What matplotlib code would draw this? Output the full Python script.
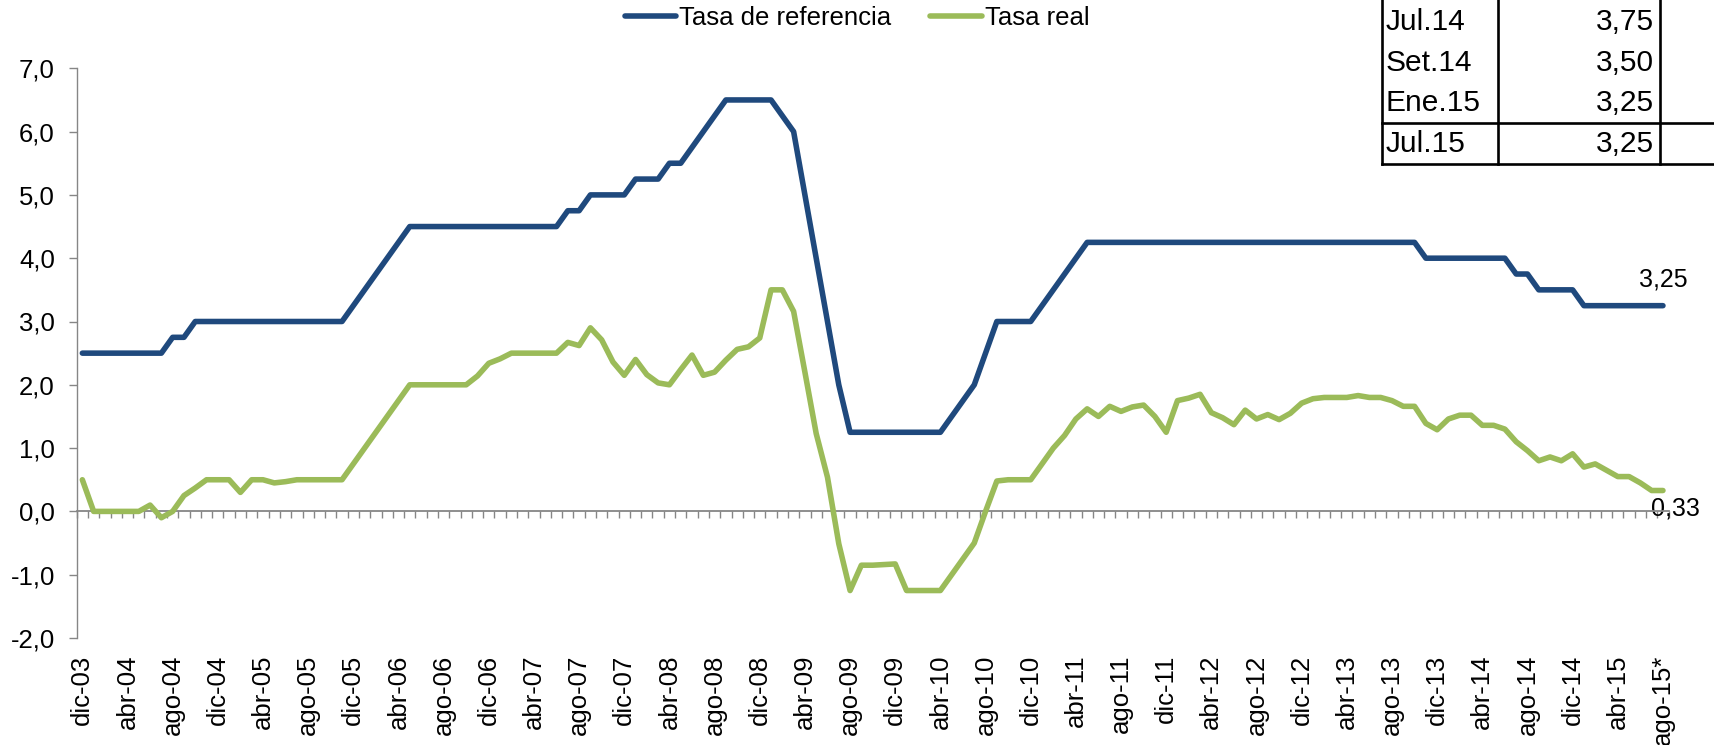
import matplotlib
matplotlib.use('Agg')
import matplotlib.pyplot as plt
from matplotlib.lines import Line2D
import numpy as np

plt.rcParams['font.family'] = ['Liberation Sans', 'DejaVu Sans']

# monthly series, dic-03 .. ago-15
tasa_referencia = [
    2.5, 2.5, 2.5, 2.5, 2.5, 2.5, 2.5, 2.5, 2.75, 2.75,
    3.0, 3.0, 3.0, 3.0, 3.0, 3.0, 3.0, 3.0, 3.0, 3.0,
    3.0, 3.0, 3.0, 3.0, 3.25, 3.5, 3.75, 4.0, 4.25, 4.5,
    4.5, 4.5, 4.5, 4.5, 4.5, 4.5, 4.5, 4.5, 4.5, 4.5,
    4.5, 4.5, 4.5, 4.75, 4.75, 5.0, 5.0, 5.0, 5.0, 5.25,
    5.25, 5.25, 5.5, 5.5, 5.75, 6.0, 6.25, 6.5, 6.5, 6.5,
    6.5, 6.5, 6.25, 6.0, 5.0, 4.0, 3.0, 2.0, 1.25, 1.25,
    1.25, 1.25, 1.25, 1.25, 1.25, 1.25, 1.25, 1.5, 1.75, 2.0,
    2.5, 3.0, 3.0, 3.0, 3.0, 3.25, 3.5, 3.75, 4.0, 4.25,
    4.25, 4.25, 4.25, 4.25, 4.25, 4.25, 4.25, 4.25, 4.25, 4.25,
    4.25, 4.25, 4.25, 4.25, 4.25, 4.25, 4.25, 4.25, 4.25, 4.25,
    4.25, 4.25, 4.25, 4.25, 4.25, 4.25, 4.25, 4.25, 4.25, 4.0,
    4.0, 4.0, 4.0, 4.0, 4.0, 4.0, 4.0, 3.75, 3.75, 3.5,
    3.5, 3.5, 3.5, 3.25, 3.25, 3.25, 3.25, 3.25, 3.25, 3.25,
    3.25,
]

tasa_real = [
    0.5, 0.0, 0.0, 0.0, 0.0, 0.0, 0.1, -0.1, 0.0, 0.25,
    0.37, 0.5, 0.5, 0.5, 0.3, 0.5, 0.5, 0.45, 0.47, 0.5,
    0.5, 0.5, 0.5, 0.5, 0.75, 1.0, 1.25, 1.5, 1.75, 2.0,
    2.0, 2.0, 2.0, 2.0, 2.0, 2.14, 2.34, 2.41, 2.5, 2.5,
    2.5, 2.5, 2.5, 2.67, 2.62, 2.9, 2.71, 2.36, 2.15, 2.4,
    2.16, 2.03, 2.0, 2.24, 2.47, 2.15, 2.2, 2.39, 2.56, 2.6,
    2.74, 3.5, 3.5, 3.16, 2.2, 1.23, 0.54, -0.51, -1.25, -0.85,
    -0.85, -0.84, -0.83, -1.25, -1.25, -1.25, -1.25, -1.0, -0.75, -0.5,
    0.0, 0.48, 0.5, 0.5, 0.5, 0.75, 1.0, 1.2, 1.46, 1.62,
    1.5, 1.66, 1.58, 1.65, 1.68, 1.5, 1.25, 1.75, 1.79, 1.85,
    1.56, 1.48, 1.37, 1.6, 1.46, 1.53, 1.45, 1.55, 1.71, 1.78,
    1.8, 1.8, 1.8, 1.83, 1.8, 1.8, 1.75, 1.66, 1.66, 1.39,
    1.29, 1.46, 1.52, 1.52, 1.36, 1.36, 1.3, 1.1, 0.96, 0.8,
    0.86, 0.8, 0.91, 0.7, 0.75, 0.65, 0.55, 0.55, 0.45, 0.33,
    0.33,
]

tick_labels = [
    'dic-03', 'abr-04', 'ago-04', 'dic-04', 'abr-05', 'ago-05', 'dic-05',
    'abr-06', 'ago-06', 'dic-06', 'abr-07', 'ago-07', 'dic-07', 'abr-08',
    'ago-08', 'dic-08', 'abr-09', 'ago-09', 'dic-09', 'abr-10', 'ago-10',
    'dic-10', 'abr-11', 'ago-11', 'dic-11', 'abr-12', 'ago-12', 'dic-12',
    'abr-13', 'ago-13', 'dic-13', 'abr-14', 'ago-14', 'dic-14', 'abr-15',
    'ago-15*',
]

# small table in the upper right corner (partly cut off in the original)
tabla_fechas = ['Jul.14', 'Set.14', 'Ene.15', 'Jul.15']
tabla_tasas = ['3,75', '3,50', '3,25', '3,25']

AZUL = '#1F497D'
VERDE = '#9BBB59'
GRIS = '#868686'
W, H = 1715, 745


def fx(px):
    return px / W


def fy(py):
    return 1 - py / H


fig = plt.figure(figsize=(W / 100, H / 100), dpi=100)
ax = fig.add_axes([fx(76.7), fy(638), fx(1668.6) - fx(76.7), fy(68.3) - fy(638)])

x = np.arange(len(tasa_referencia))
ax.plot(x, tasa_referencia, color=AZUL, lw=4.0, solid_joinstyle='round',
        solid_capstyle='round', zorder=4, label='Tasa de referencia')
ax.plot(x, tasa_real, color=VERDE, lw=4.0, solid_joinstyle='round',
        solid_capstyle='round', zorder=4, label='Tasa real')

ax.set_xlim(-0.5, len(x) - 0.5)
ax.set_ylim(-2, 7)

# y axis
yt = np.arange(-2, 8)
ax.set_yticks(yt, [f'{v},0' for v in yt])
ax.tick_params(axis='y', length=5.8, width=1, color=GRIS, pad=10, labelsize=18.5)
ax.spines['left'].set_color(GRIS)
ax.spines['left'].set_linewidth(1)

# horizontal axis line at zero with a small tick per month
ax.spines['bottom'].set_position(('data', 0))
ax.spines['bottom'].set_color(GRIS)
ax.spines['bottom'].set_linewidth(1.3)
ax.spines['bottom'].set_zorder(3)
ax.set_xticks([])
ax.set_xticks(np.arange(-0.5, len(x)), minor=True)
ax.tick_params(axis='x', which='minor', length=5, width=1, color=GRIS, direction='out')
ax.spines['top'].set_visible(False)
ax.spines['right'].set_visible(False)

# date labels down at the bottom of the plot
sec = ax.secondary_xaxis('bottom')
sec.set_xticks(x[::4], tick_labels)
sec.spines['bottom'].set_visible(False)
sec.tick_params(axis='x', length=0, pad=12, labelrotation=90, labelsize=18.5)

# end labels
ax.annotate(f'{tasa_referencia[-1]:.2f}'.replace('.', ','), (x[-1], tasa_referencia[-1]),
            xytext=(0, 14), textcoords='offset pixels', ha='center', va='bottom', fontsize=18)
ax.annotate(f'{tasa_real[-1]:.2f}'.replace('.', ','), (x[-1], tasa_real[-1]),
            xytext=(12, -6), textcoords='offset pixels', ha='center', va='top', fontsize=18)

fig.legend(loc='center left', bbox_to_anchor=(fx(625), fy(18)), ncol=2, frameon=False,
           fontsize=18.5, handlelength=2.0, handletextpad=0.12, columnspacing=1.5,
           borderpad=0, borderaxespad=0)

# table
lw_t = 1.9
col_x = [1382, 1498, 1660]
row_h = 40.5
y_sep = 123
y_bot = 164
for cx in col_x:
    fig.add_artist(Line2D([fx(cx), fx(cx)], [fy(-5), fy(y_bot)], color='black', lw=lw_t))
for ry in (y_sep, y_bot):
    fig.add_artist(Line2D([fx(col_x[0]), fx(W + 5)], [fy(ry), fy(ry)], color='black', lw=lw_t))
for i, (fecha, tasa) in enumerate(zip(tabla_fechas, tabla_tasas)):
    yc = y_bot - row_h * (len(tabla_fechas) - i) + row_h / 2
    fig.text(fx(1386), fy(yc), fecha, ha='left', va='center', fontsize=21.5)
    fig.text(fx(1654), fy(yc), tasa, ha='right', va='center', fontsize=21.5)

fig.savefig('out.png', dpi=100)
